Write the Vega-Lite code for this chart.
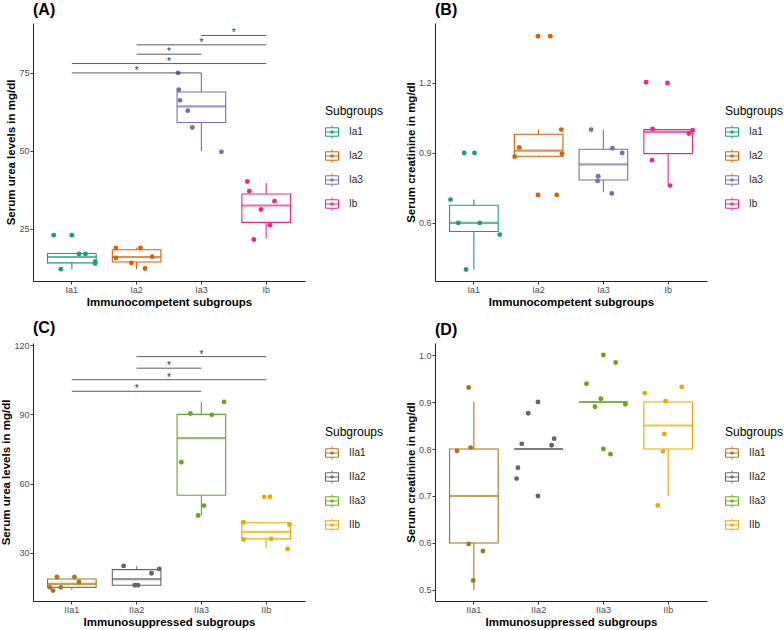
{
  "$schema": "https://vega.github.io/schema/vega-lite/v6.json",
  "padding": {"left": 0, "top": 2, "right": 0, "bottom": 0},
  "background": "white",
  "columns": 2,
  "spacing": {"row": 62, "column": 130},
  "bounds": "flush",
  "resolve": {"scale": {"color": "independent", "x": "independent", "y": "independent", "xOffset": "independent"}, "legend": {"color": "independent"}},
  "datasets": {
    "ptsA": [
      {"g": "Ia1", "v": 23.0, "j": -0.28}, {"g": "Ia1", "v": 23.0, "j": 0.0}, {"g": "Ia1", "v": 17.0, "j": 0.11}, {"g": "Ia1", "v": 17.0, "j": 0.21}, {"g": "Ia1", "v": 12.1, "j": -0.17}, {"g": "Ia1", "v": 13.9, "j": 0.36}, {"g": "Ia1", "v": 14.5, "j": 0.36},
      {"g": "Ia2", "v": 18.9, "j": -0.32}, {"g": "Ia2", "v": 18.9, "j": 0.06}, {"g": "Ia2", "v": 15.7, "j": -0.32}, {"g": "Ia2", "v": 16.1, "j": 0.24}, {"g": "Ia2", "v": 14.1, "j": -0.08}, {"g": "Ia2", "v": 12.3, "j": 0.13},
      {"g": "Ia3", "v": 75.0, "j": -0.36}, {"g": "Ia3", "v": 69.6, "j": -0.35}, {"g": "Ia3", "v": 66.2, "j": -0.33}, {"g": "Ia3", "v": 62.9, "j": -0.21}, {"g": "Ia3", "v": 57.5, "j": -0.14}, {"g": "Ia3", "v": 49.7, "j": 0.31},
      {"g": "Ib", "v": 40.2, "j": -0.29}, {"g": "Ib", "v": 37.1, "j": -0.26}, {"g": "Ib", "v": 33.9, "j": 0.13}, {"g": "Ib", "v": 31.2, "j": -0.08}, {"g": "Ib", "v": 26.2, "j": 0.06}, {"g": "Ib", "v": 21.6, "j": -0.19}
    ],
    "boxA": [
      {"g": "Ia1", "lo": 12.1, "q1": 14.1, "med": 16.0, "q3": 17.1, "hi": 17.1},
      {"g": "Ia2", "lo": 12.1, "q1": 14.4, "med": 16.0, "q3": 18.3, "hi": 19.0},
      {"g": "Ia3", "lo": 49.9, "q1": 59.1, "med": 64.3, "q3": 68.9, "hi": 75.0},
      {"g": "Ib", "lo": 21.9, "q1": 27.1, "med": 32.5, "q3": 36.2, "hi": 39.7}
    ],
    "sigA": [
      {"a": "Ia1", "b": "Ia3", "y": 75}, {"a": "Ia1", "b": "Ib", "y": 78}, {"a": "Ia2", "b": "Ia3", "y": 81}, {"a": "Ia2", "b": "Ib", "y": 84}, {"a": "Ia3", "b": "Ib", "y": 87}
    ],
    "ptsB": [
      {"g": "Ia1", "v": 0.70, "j": -0.36}, {"g": "Ia1", "v": 0.60, "j": -0.24}, {"g": "Ia1", "v": 0.60, "j": 0.09}, {"g": "Ia1", "v": 0.55, "j": 0.40}, {"g": "Ia1", "v": 0.40, "j": -0.12}, {"g": "Ia1", "v": 0.90, "j": -0.15}, {"g": "Ia1", "v": 0.90, "j": 0.01},
      {"g": "Ia2", "v": 0.884, "j": -0.37}, {"g": "Ia2", "v": 0.924, "j": -0.30}, {"g": "Ia2", "v": 1.40, "j": -0.01}, {"g": "Ia2", "v": 1.40, "j": 0.18}, {"g": "Ia2", "v": 1.0, "j": 0.35}, {"g": "Ia2", "v": 0.896, "j": 0.36}, {"g": "Ia2", "v": 0.72, "j": -0.01}, {"g": "Ia2", "v": 0.72, "j": 0.28},
      {"g": "Ia3", "v": 1.0, "j": -0.19}, {"g": "Ia3", "v": 0.92, "j": 0.14}, {"g": "Ia3", "v": 0.90, "j": 0.29}, {"g": "Ia3", "v": 0.80, "j": -0.08}, {"g": "Ia3", "v": 0.78, "j": -0.09}, {"g": "Ia3", "v": 0.726, "j": 0.13},
      {"g": "Ib", "v": 1.203, "j": -0.34}, {"g": "Ib", "v": 1.20, "j": -0.01}, {"g": "Ib", "v": 1.003, "j": -0.24}, {"g": "Ib", "v": 0.997, "j": 0.38}, {"g": "Ib", "v": 0.983, "j": 0.32}, {"g": "Ib", "v": 0.869, "j": -0.25}, {"g": "Ib", "v": 0.76, "j": 0.03}
    ],
    "boxB": [
      {"g": "Ia1", "lo": 0.40, "q1": 0.563, "med": 0.60, "q3": 0.676, "hi": 0.70},
      {"g": "Ia2", "lo": 0.88, "q1": 0.886, "med": 0.91, "q3": 0.98, "hi": 1.0},
      {"g": "Ia3", "lo": 0.731, "q1": 0.784, "med": 0.851, "q3": 0.916, "hi": 1.0},
      {"g": "Ib", "lo": 0.76, "q1": 0.897, "med": 0.99, "q3": 1.0, "hi": 1.0}
    ],
    "ptsC": [
      {"g": "IIa1", "v": 19.6, "j": -0.23}, {"g": "IIa1", "v": 19.6, "j": 0.04}, {"g": "IIa1", "v": 17.4, "j": 0.11}, {"g": "IIa1", "v": 15.1, "j": -0.34}, {"g": "IIa1", "v": 15.1, "j": -0.17}, {"g": "IIa1", "v": 13.7, "j": -0.29},
      {"g": "IIa2", "v": 24.4, "j": -0.2}, {"g": "IIa2", "v": 21.2, "j": 0.23}, {"g": "IIa2", "v": 23.1, "j": 0.35}, {"g": "IIa2", "v": 16.0, "j": -0.03}, {"g": "IIa2", "v": 16.0, "j": 0.02},
      {"g": "IIa3", "v": 90.4, "j": -0.17}, {"g": "IIa3", "v": 89.8, "j": 0.16}, {"g": "IIa3", "v": 95.4, "j": 0.35}, {"g": "IIa3", "v": 69.3, "j": -0.31}, {"g": "IIa3", "v": 50.5, "j": 0.04}, {"g": "IIa3", "v": 46.2, "j": -0.05},
      {"g": "IIb", "v": 54.3, "j": -0.03}, {"g": "IIb", "v": 54.3, "j": 0.06}, {"g": "IIb", "v": 43.3, "j": -0.35}, {"g": "IIb", "v": 42.3, "j": 0.36}, {"g": "IIb", "v": 35.8, "j": -0.35}, {"g": "IIb", "v": 36.1, "j": 0.08}, {"g": "IIb", "v": 31.7, "j": 0.33}
    ],
    "boxC": [
      {"g": "IIa1", "lo": 14.0, "q1": 15.1, "med": 16.6, "q3": 18.7, "hi": 18.7},
      {"g": "IIa2", "lo": 16.0, "q1": 16.0, "med": 18.7, "q3": 22.8, "hi": 24.2},
      {"g": "IIa3", "lo": 46.3, "q1": 55.0, "med": 79.7, "q3": 90.0, "hi": 95.3},
      {"g": "IIb", "lo": 32.2, "q1": 36.1, "med": 39.1, "q3": 43.1, "hi": 43.1}
    ],
    "sigC": [
      {"a": "IIa1", "b": "IIa3", "y": 100}, {"a": "IIa1", "b": "IIb", "y": 105}, {"a": "IIa2", "b": "IIa3", "y": 110}, {"a": "IIa2", "b": "IIb", "y": 115}
    ],
    "ptsD": [
      {"g": "IIa1", "v": 0.931, "j": -0.08}, {"g": "IIa1", "v": 0.796, "j": -0.26}, {"g": "IIa1", "v": 0.803, "j": -0.05}, {"g": "IIa1", "v": 0.598, "j": -0.08}, {"g": "IIa1", "v": 0.583, "j": 0.14}, {"g": "IIa1", "v": 0.520, "j": -0.01},
      {"g": "IIa2", "v": 0.737, "j": -0.34}, {"g": "IIa2", "v": 0.760, "j": -0.32}, {"g": "IIa2", "v": 0.811, "j": -0.26}, {"g": "IIa2", "v": 0.876, "j": -0.16}, {"g": "IIa2", "v": 0.90, "j": -0.01}, {"g": "IIa2", "v": 0.70, "j": -0.01}, {"g": "IIa2", "v": 0.808, "j": 0.2}, {"g": "IIa2", "v": 0.822, "j": 0.24},
      {"g": "IIa3", "v": 0.939, "j": -0.26}, {"g": "IIa3", "v": 1.0, "j": 0.0}, {"g": "IIa3", "v": 0.984, "j": 0.19}, {"g": "IIa3", "v": 0.907, "j": -0.04}, {"g": "IIa3", "v": 0.89, "j": -0.13}, {"g": "IIa3", "v": 0.895, "j": 0.34}, {"g": "IIa3", "v": 0.80, "j": 0.0}, {"g": "IIa3", "v": 0.789, "j": 0.11},
      {"g": "IIb", "v": 0.919, "j": -0.36}, {"g": "IIb", "v": 0.932, "j": 0.21}, {"g": "IIb", "v": 0.902, "j": -0.04}, {"g": "IIb", "v": 0.832, "j": -0.06}, {"g": "IIb", "v": 0.795, "j": -0.08}, {"g": "IIb", "v": 0.68, "j": -0.16}
    ],
    "boxD": [
      {"g": "IIa1", "lo": 0.50, "q1": 0.60, "med": 0.70, "q3": 0.80, "hi": 0.90},
      {"g": "IIa2", "lo": 0.80, "q1": 0.80, "med": 0.80, "q3": 0.80, "hi": 0.80},
      {"g": "IIa3", "lo": 0.90, "q1": 0.90, "med": 0.90, "q3": 0.90, "hi": 0.90},
      {"g": "IIb", "lo": 0.70, "q1": 0.80, "med": 0.85, "q3": 0.90, "hi": 0.90}
    ]
  },
  "concat": [
    {
      "title": {"text": "(A)"},
      "width": 272, "height": 258,
      "layer": [
        {"data": {"name": "boxA"}, "mark": {"type": "rule", "strokeWidth": 1.1},
         "encoding": {
           "x": {"field": "g", "type": "nominal", "scale": {"type": "band", "paddingInner": 0, "paddingOuter": 0.1, "domain": ["Ia1", "Ia2", "Ia3", "Ib"]}, "axis": {"title": "Immunocompetent subgroups", "labelAngle": 0}},
           "y": {"field": "lo", "type": "quantitative", "scale": {"domain": [8.3, 91], "nice": false, "zero": false}, "axis": {"title": "Serum urea levels in mg/dl", "values": [25, 50, 75]}},
           "y2": {"field": "q1"},
           "color": {"field": "g", "type": "nominal", "scale": {"domain": ["Ia1", "Ia2", "Ia3", "Ib"], "range": ["#1B9E77", "#D95F02", "#7570B3", "#E7298A"]},
             "legend": {"title": "Subgroups", "orient": "none", "legendX": 292, "legendY": 83, "encode": {"symbols": {"update": {"fill": {"value": "transparent"}, "fillOpacity": {"value": 0}, "strokeOpacity": {"value": 1}, "stroke": {"scale": "concat_0_color", "field": "value"}}}}}}
         }},
        {"data": {"name": "boxA"}, "mark": {"type": "rule", "strokeWidth": 1.1},
         "encoding": {"x": {"field": "g", "type": "nominal"}, "y": {"field": "q3", "type": "quantitative"}, "y2": {"field": "hi"}, "color": {"field": "g", "type": "nominal"}}},
        {"data": {"name": "boxA"}, "mark": {"type": "bar", "filled": false, "strokeWidth": 1.1, "width": 48.6},
         "encoding": {"x": {"field": "g", "type": "nominal"}, "y": {"field": "q1", "type": "quantitative"}, "y2": {"field": "q3"}, "color": {"field": "g", "type": "nominal"}}},
        {"data": {"name": "boxA"}, "mark": {"type": "tick", "thickness": 2.2, "size": 48.6, "orient": "horizontal"},
         "encoding": {"x": {"field": "g", "type": "nominal"}, "y": {"field": "med", "type": "quantitative"}, "color": {"field": "g", "type": "nominal"}}},
        {"data": {"name": "ptsA"}, "mark": {"type": "point", "filled": true, "size": 24, "opacity": 1},
         "encoding": {"x": {"field": "g", "type": "nominal"}, "xOffset": {"field": "j", "type": "quantitative", "scale": {"domain": [-0.5, 0.5], "range": [0, 64.762]}}, "y": {"field": "v", "type": "quantitative"}, "color": {"field": "g", "type": "nominal"}}},
        {"data": {"name": "sigA"}, "mark": {"type": "rule", "color": "#333333", "strokeWidth": 0.8},
         "encoding": {"x": {"field": "a", "type": "nominal"}, "x2": {"field": "b"}, "y": {"field": "y", "type": "quantitative"}}},
        {"data": {"name": "sigA"},
         "transform": [{"calculate": "(indexof(['Ia1','Ia2','Ia3','Ib'], datum.b) - indexof(['Ia1','Ia2','Ia3','Ib'], datum.a)) / 2", "as": "off"}],
         "mark": {"type": "text", "text": "*", "fontSize": 10, "fill": "#333333", "baseline": "alphabetic", "dy": 1},
         "encoding": {"x": {"field": "a", "type": "nominal"}, "xOffset": {"field": "off", "type": "quantitative"}, "y": {"field": "y", "type": "quantitative"}}}
      ]
    },
    {
      "title": {"text": "(B)"},
      "width": 272, "height": 258,
      "layer": [
        {"data": {"name": "boxB"}, "mark": {"type": "rule", "strokeWidth": 1.1},
         "encoding": {
           "x": {"field": "g", "type": "nominal", "scale": {"type": "band", "paddingInner": 0, "paddingOuter": 0.1, "domain": ["Ia1", "Ia2", "Ia3", "Ib"]}, "axis": {"title": "Immunocompetent subgroups", "labelAngle": 0}},
           "y": {"field": "lo", "type": "quantitative", "scale": {"domain": [0.351, 1.457], "nice": false, "zero": false}, "axis": {"title": "Serum creatinine in mg/dl", "values": [0.6, 0.9, 1.2], "format": ".1f"}},
           "y2": {"field": "q1"},
           "color": {"field": "g", "type": "nominal", "scale": {"domain": ["Ia1", "Ia2", "Ia3", "Ib"], "range": ["#1B9E77", "#D95F02", "#7570B3", "#E7298A"]},
             "legend": {"title": "Subgroups", "orient": "none", "legendX": 290, "legendY": 83, "encode": {"symbols": {"update": {"fill": {"value": "transparent"}, "fillOpacity": {"value": 0}, "strokeOpacity": {"value": 1}, "stroke": {"scale": "concat_1_color", "field": "value"}}}}}}
         }},
        {"data": {"name": "boxB"}, "mark": {"type": "rule", "strokeWidth": 1.1},
         "encoding": {"x": {"field": "g", "type": "nominal"}, "y": {"field": "q3", "type": "quantitative"}, "y2": {"field": "hi"}, "color": {"field": "g", "type": "nominal"}}},
        {"data": {"name": "boxB"}, "mark": {"type": "bar", "filled": false, "strokeWidth": 1.1, "width": 48.6},
         "encoding": {"x": {"field": "g", "type": "nominal"}, "y": {"field": "q1", "type": "quantitative"}, "y2": {"field": "q3"}, "color": {"field": "g", "type": "nominal"}}},
        {"data": {"name": "boxB"}, "mark": {"type": "tick", "thickness": 2.2, "size": 48.6, "orient": "horizontal"},
         "encoding": {"x": {"field": "g", "type": "nominal"}, "y": {"field": "med", "type": "quantitative"}, "color": {"field": "g", "type": "nominal"}}},
        {"data": {"name": "ptsB"}, "mark": {"type": "point", "filled": true, "size": 24, "opacity": 1},
         "encoding": {"x": {"field": "g", "type": "nominal"}, "xOffset": {"field": "j", "type": "quantitative", "scale": {"domain": [-0.5, 0.5], "range": [0, 64.762]}}, "y": {"field": "v", "type": "quantitative"}, "color": {"field": "g", "type": "nominal"}}}
      ]
    },
    {
      "title": {"text": "(C)"},
      "width": 272, "height": 258,
      "layer": [
        {"data": {"name": "boxC"}, "mark": {"type": "rule", "strokeWidth": 1.1},
         "encoding": {
           "x": {"field": "g", "type": "nominal", "scale": {"type": "band", "paddingInner": 0, "paddingOuter": 0.1, "domain": ["IIa1", "IIa2", "IIa3", "IIb"]}, "axis": {"title": "Immunosuppressed subgroups", "labelAngle": 0}},
           "y": {"field": "lo", "type": "quantitative", "scale": {"domain": [9.2, 120.9], "nice": false, "zero": false}, "axis": {"title": "Serum urea levels in mg/dl", "values": [30, 60, 90, 120]}},
           "y2": {"field": "q1"},
           "color": {"field": "g", "type": "nominal", "scale": {"domain": ["IIa1", "IIa2", "IIa3", "IIb"], "range": ["#A6761D", "#666666", "#66A61E", "#E6AB02"]},
             "legend": {"title": "Subgroups", "orient": "none", "legendX": 292, "legendY": 84, "encode": {"symbols": {"update": {"fill": {"value": "transparent"}, "fillOpacity": {"value": 0}, "strokeOpacity": {"value": 1}, "stroke": {"scale": "concat_2_color", "field": "value"}}}}}}
         }},
        {"data": {"name": "boxC"}, "mark": {"type": "rule", "strokeWidth": 1.1},
         "encoding": {"x": {"field": "g", "type": "nominal"}, "y": {"field": "q3", "type": "quantitative"}, "y2": {"field": "hi"}, "color": {"field": "g", "type": "nominal"}}},
        {"data": {"name": "boxC"}, "mark": {"type": "bar", "filled": false, "strokeWidth": 1.1, "width": 48.6},
         "encoding": {"x": {"field": "g", "type": "nominal"}, "y": {"field": "q1", "type": "quantitative"}, "y2": {"field": "q3"}, "color": {"field": "g", "type": "nominal"}}},
        {"data": {"name": "boxC"}, "mark": {"type": "tick", "thickness": 2.2, "size": 48.6, "orient": "horizontal"},
         "encoding": {"x": {"field": "g", "type": "nominal"}, "y": {"field": "med", "type": "quantitative"}, "color": {"field": "g", "type": "nominal"}}},
        {"data": {"name": "ptsC"}, "mark": {"type": "point", "filled": true, "size": 24, "opacity": 1},
         "encoding": {"x": {"field": "g", "type": "nominal"}, "xOffset": {"field": "j", "type": "quantitative", "scale": {"domain": [-0.5, 0.5], "range": [0, 64.762]}}, "y": {"field": "v", "type": "quantitative"}, "color": {"field": "g", "type": "nominal"}}},
        {"data": {"name": "sigC"}, "mark": {"type": "rule", "color": "#333333", "strokeWidth": 0.8},
         "encoding": {"x": {"field": "a", "type": "nominal"}, "x2": {"field": "b"}, "y": {"field": "y", "type": "quantitative"}}},
        {"data": {"name": "sigC"},
         "transform": [{"calculate": "(indexof(['IIa1','IIa2','IIa3','IIb'], datum.b) - indexof(['IIa1','IIa2','IIa3','IIb'], datum.a)) / 2", "as": "off"}],
         "mark": {"type": "text", "text": "*", "fontSize": 10, "fill": "#333333", "baseline": "alphabetic", "dy": 1},
         "encoding": {"x": {"field": "a", "type": "nominal"}, "xOffset": {"field": "off", "type": "quantitative"}, "y": {"field": "y", "type": "quantitative"}}}
      ]
    },
    {
      "title": {"text": "(D)"},
      "width": 272, "height": 258,
      "layer": [
        {"data": {"name": "boxD"}, "mark": {"type": "rule", "strokeWidth": 1.1},
         "encoding": {
           "x": {"field": "g", "type": "nominal", "scale": {"type": "band", "paddingInner": 0, "paddingOuter": 0.1, "domain": ["IIa1", "IIa2", "IIa3", "IIb"]}, "axis": {"title": "Immunosuppressed subgroups", "labelAngle": 0}},
           "y": {"field": "lo", "type": "quantitative", "scale": {"domain": [0.4765, 1.0256], "nice": false, "zero": false}, "axis": {"title": "Serum creatinine in mg/dl", "values": [0.5, 0.6, 0.7, 0.8, 0.9, 1.0], "format": ".1f"}},
           "y2": {"field": "q1"},
           "color": {"field": "g", "type": "nominal", "scale": {"domain": ["IIa1", "IIa2", "IIa3", "IIb"], "range": ["#A6761D", "#666666", "#66A61E", "#E6AB02"]},
             "legend": {"title": "Subgroups", "orient": "none", "legendX": 290, "legendY": 84, "encode": {"symbols": {"update": {"fill": {"value": "transparent"}, "fillOpacity": {"value": 0}, "strokeOpacity": {"value": 1}, "stroke": {"scale": "concat_3_color", "field": "value"}}}}}}
         }},
        {"data": {"name": "boxD"}, "mark": {"type": "rule", "strokeWidth": 1.1},
         "encoding": {"x": {"field": "g", "type": "nominal"}, "y": {"field": "q3", "type": "quantitative"}, "y2": {"field": "hi"}, "color": {"field": "g", "type": "nominal"}}},
        {"data": {"name": "boxD"}, "mark": {"type": "bar", "filled": false, "strokeWidth": 1.1, "width": 48.6},
         "encoding": {"x": {"field": "g", "type": "nominal"}, "y": {"field": "q1", "type": "quantitative"}, "y2": {"field": "q3"}, "color": {"field": "g", "type": "nominal"}}},
        {"data": {"name": "boxD"}, "mark": {"type": "tick", "thickness": 2.2, "size": 48.6, "orient": "horizontal"},
         "encoding": {"x": {"field": "g", "type": "nominal"}, "y": {"field": "med", "type": "quantitative"}, "color": {"field": "g", "type": "nominal"}}},
        {"data": {"name": "ptsD"}, "mark": {"type": "point", "filled": true, "size": 24, "opacity": 1},
         "encoding": {"x": {"field": "g", "type": "nominal"}, "xOffset": {"field": "j", "type": "quantitative", "scale": {"domain": [-0.5, 0.5], "range": [0, 64.762]}}, "y": {"field": "v", "type": "quantitative"}, "color": {"field": "g", "type": "nominal"}}}
      ]
    }
  ],
  "config": {
    "font": "Liberation Sans",
    "view": {"stroke": null},
    "title": {"anchor": "start", "frame": "group", "fontSize": 16, "fontWeight": "bold", "color": "#000000", "baseline": "bottom", "offset": 5},
    "axis": {"grid": false, "domainColor": "#222222", "domainWidth": 1, "tickColor": "#333333", "tickSize": 3, "tickWidth": 1, "labelColor": "#4d4d4d", "labelFontSize": 9, "labelPadding": 1, "titleFontSize": 11.5, "titleFontWeight": "bold", "titleColor": "#000000", "titlePadding": 2},
    "legend": {"titleFontSize": 12, "titleFontWeight": "normal", "titleColor": "#000000", "labelFontSize": 10, "labelColor": "#222222", "symbolSize": 169, "symbolType": "M-1,-0.65H1V0.65H-1Z M0,-1V-0.65 M0,0.65V1 M-1,0H1 M0.1,0A0.1,0.1 0 1,1 -0.1,0A0.1,0.1 0 1,1 0.1,0 M0.2,0A0.2,0.2 0 1,1 -0.2,0A0.2,0.2 0 1,1 0.2,0", "symbolStrokeWidth": 1, "symbolFillColor": "transparent", "rowPadding": 6, "titlePadding": 7, "labelOffset": 10}
  }
}
